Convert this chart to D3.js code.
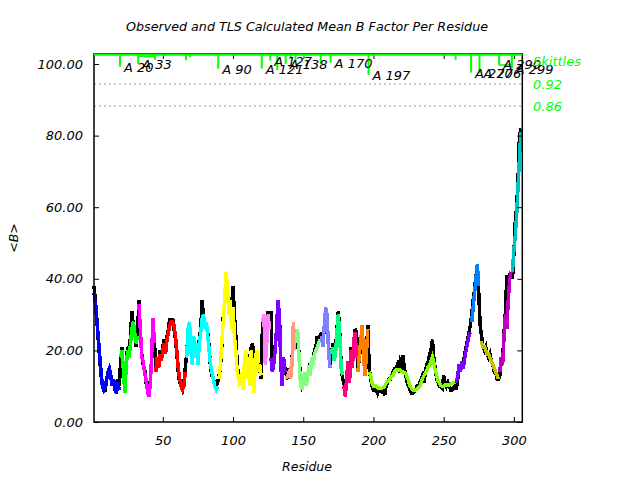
<!DOCTYPE html>
<html><head><meta charset="utf-8">
<script src="https://cdn.jsdelivr.net/npm/d3@7"></script>
<style>
body{margin:0;background:#fff;}
text{font-family:"DejaVu Sans",sans-serif;font-style:italic;}
</style></head>
<body><svg id="c" width="640" height="480"></svg>
<script>
// ---------------- DATA ----------------
const title = "Observed and TLS Calculated Mean B Factor Per Residue";
const xLabel = "Residue";
const yLabel = "<B>";
const xTicks = [50,100,150,200,250,300];
const yTicks = [0,20,40,60,80,100];
const skittleTicks = [0.92, 0.86];

// TLS segments (start residue) and colours
const segStarts = [1,20,33,45,67,90,121,127,138,145,163,170,179,189,197,259,270,276,290,299];
const segColors = ["#0000ff","#00ff00","#ff00ff","#ff0000","#00ffff","#ffff00","#ff80ff","#8000ff","#ff9980","#80ff80","#8080ff","#00ff80","#ff0080","#ff8000","#80ff00","#8000ff","#0080ff","#c0c000","#c000c0","#00c0c0"];

// TLS calculated mean B per residue (residues 1..305)
const tlsB = [
36,33,28,24,19,14,10,9,10,12,14,15,13,10,12,9,8,11,9,
18,20,14,8,16,20,18,22,26,28,25,22,24,
33,26,18,17,14,12,9,7,10,18,29,22,
14,18,15,19,17,20,22,19,23,25,27,28,28,27,24,20,15,12,10,9,10,14,
18,26,28,20,16,24,18,22,16,22,25,29,30,26,28,24,20,16,14,12,10,9,10,
12,16,22,28,34,42,38,30,34,26,32,24,20,14,12,10,14,9,16,20,12,18,10,20,14,8,18,20,14,16,13,
28,30,16,22,30,26,
18,14,16,20,26,34,30,16,10,18,14,
12,13,14,12,16,28,20,
22,26,18,11,9,12,14,10,12,16,13,18,16,19,20,21,22,23,
24,21,27,32,30,20,15,
19,21,17,19,25,30,24,15,13,
10,7,13,17,11,20,15,23,25,18,
14,19,23,27,18,13,19,26,
14,13,11,10,10,10,9.5,9.5,9.4,9.4,9.6,10,10.8,11.2,11.7,12.2,12.7,13,14,14.5,14.5,14.5,14.5,14.2,14,13.8,13.6,12.5,11.5,10,9.5,9,8.9,9,9.3,9.7,10,11,12.2,13,13.6,14.5,15.4,16,17,18.2,16.5,14.5,13,11.5,10.8,10.2,9.9,10,10.3,10.3,10.3,10.3,10.5,10.8,11,11.2,
11,13,16,14,17,15,18,20,22,24,25,
28,32,36,40,44,38,
22,22,21,21,20,19,19,18,17,16,15,14,13,12,
14,18,16,24,30,26,34,40,42,
42,48,52,58,66,74,81
];

// Observed mean B per residue (residues 1..305)
const obsB = [
38,34,29,23,18,13,11,9,9,12,14,14,12,11,11,10,8,12,10,
17,21,13,9,17,21,20,24,31,27,26,21,25,
34,25,19,16,15,11,10,8,11,17,28,23,
15,17,16,20,18,21,23,20,24,26,29,27,29,26,23,19,14,11,10,9,11,15,
19,25,27,21,17,23,19,21,17,23,26,34,29,27,27,25,21,15,13,12,11,10,11,
13,15,21,29,33,40,36,31,35,28,38,30,24,16,13,11,13,10,15,19,13,19,11,21,22,10,17,19,15,15,12,
27,29,17,23,31,27,
31,15,17,21,25,33,31,17,11,17,15,
13,12,15,13,17,27,21,
21,25,19,12,10,11,13,11,13,15,14,17,17,20,21,24,23,24,
25,22,26,31,29,21,16,
18,22,18,20,26,31,25,16,12,
11,8,12,16,12,21,16,22,26,25,
15,18,22,26,19,14,20,27,
15,12,10,9,9,9,8,9,9,8.5,9,7.5,10,11,12,12,13,14,15,15,16,15,17,16,18.6,15,13,11,10,9,8,8,8.5,9,10,10,11,12,13,11,14,16,17,19,20,23,18,15,12,11,10,10,9.5,13,11,10,11,10,9,9,9.5,10,
9,12,15,15,16,16,19,21,23,25,27,
30,34,37,41,43,36,
27,24,21,20,21,19,18,19,17,16,14,14,12,12,
13,17,17,25,31,41,35,41,41,
40,47,56,60,68,80,82
];

// Skittles: residue (segment boundary), value, label
const skitRes = [19.5,32.5,44.5,66.5,69.5,89.5,120.5,126.5,131.5,137.5,141,144.5,150.5,162.5,169.5,196.5,258.5,269.5,275.5,289.5,298.5];
const skitVal = [0.967,0.975,0.986,0.985,0.993,0.962,0.962,0.984,0.958,0.975,0.99,0.985,0.99,0.975,0.978,0.945,0.986,0.951,0.949,0.975,0.962];
const skitLabel = ["A 20","A 33","","","","A 90","A 121","A 127","","A 138","","","","","A 170","A 197","","A 270","A 276","A 290","A 299"];
const skitPlateaus = [[32.5,44.5,0.995],[289.5,298.5,0.972]];

// ---------------- CHART ----------------
const svg = d3.select("#c");
const L=94, R=522.3, T=54, B=422;
const x = d3.scaleLinear().domain([1,306]).range([L,R]);
const y = d3.scaleLinear().domain([0,102.8]).range([B,T]);
const ys = d3.scaleLinear().domain([0.86,0.92]).range([106,84]);

// dotted skittle reference lines
svg.selectAll("line.ref").data(skittleTicks).enter().append("line")
  .attr("x1",L).attr("x2",R).attr("y1",d=>ys(d)).attr("y2",d=>ys(d))
  .attr("stroke","#999").attr("stroke-width",1).attr("stroke-dasharray","2,3");

// observed line
const obsData = obsB.map((b,i)=>({r:i+1,b}));
const line = d3.line().x(d=>x(d.r)).y(d=>y(d.b));
svg.append("path").datum(obsData).attr("d",line)
  .attr("fill","none").attr("stroke","#000").attr("stroke-width",3.5)
  .attr("shape-rendering","crispEdges");

// TLS segments
segStarts.forEach((s,k)=>{
  const e = k<segStarts.length-1 ? segStarts[k+1]-1 : tlsB.length;
  const seg = [];
  for(let r=s;r<=e;r++) seg.push({r,b:tlsB[r-1]});
  svg.append("path").datum(seg).attr("d",line)
    .attr("fill","none").attr("stroke",segColors[k]).attr("stroke-width",3.5)
    .attr("shape-rendering","crispEdges");
});

// axes
const gL = svg.append("g").attr("transform",`translate(${L},0)`)
  .call(d3.axisLeft(y).tickValues(yTicks).tickFormat(d3.format(".2f")).tickSize(-5).tickPadding(11));
const gB = svg.append("g").attr("transform",`translate(0,${B})`)
  .call(d3.axisBottom(x).tickValues(xTicks).tickSize(-5).tickPadding(14));
const gT = svg.append("g").attr("transform",`translate(0,${T})`)
  .call(d3.axisTop(x).tickValues(xTicks).tickSize(-5).tickFormat(""));
const gR = svg.append("g").attr("transform",`translate(${R},0)`)
  .call(d3.axisRight(y).tickValues(yTicks).tickSize(-5).tickFormat(""));
[gL,gB,gT,gR].forEach(g=>{
  g.select(".domain").remove();
  g.selectAll("line").attr("stroke","#000");
  g.selectAll("text").attr("fill","#000").style("font-size","13px").style("font-family","DejaVu Sans").style("font-style","italic");
});

// frame
svg.append("rect").attr("x",L).attr("y",T).attr("width",R-L).attr("height",B-T)
  .attr("fill","none").attr("stroke","#000").attr("stroke-width",1.5);

// skittles
const green="#00ff00";
svg.append("line").attr("x1",L).attr("x2",R).attr("y1",ys(1)).attr("y2",ys(1))
  .attr("stroke",green).attr("stroke-width",2);
skitPlateaus.forEach(p=>{
  svg.append("path").attr("d",`M${x(p[0])},${ys(1)}V${ys(p[2])}H${x(p[1])}V${ys(1)}`)
    .attr("fill","none").attr("stroke",green).attr("stroke-width",1.5);
});
skitRes.forEach((r,i)=>{
  svg.append("line").attr("x1",x(r)).attr("x2",x(r)).attr("y1",ys(1)).attr("y2",ys(skitVal[i]))
    .attr("stroke",green).attr("stroke-width",2);
});
skitRes.forEach((r,i)=>{
  if(!skitLabel[i]) return;
  svg.append("text").attr("x",x(r)+4).attr("y",ys(skitVal[i])+5)
    .style("font-size","13px").attr("fill","#000").text(skitLabel[i]);
});

// right labels
svg.append("text").attr("x",533).attr("y",ys(1)+11).attr("fill",green).style("font-size","13px").text("Skittles");
skittleTicks.forEach(v=>{
  svg.append("text").attr("x",533).attr("y",ys(v)+5).attr("fill",green).style("font-size","13px").text(d3.format(".2f")(v));
});

// titles
svg.append("text").attr("x",307).attr("y",31).attr("text-anchor","middle").style("font-size","12.7px").text(title);
svg.append("text").attr("x",307).attr("y",471).attr("text-anchor","middle").style("font-size","12.5px").text(xLabel);
svg.append("text").attr("transform","translate(18,238) rotate(-90)").attr("text-anchor","middle").style("font-size","12.5px").text(yLabel);
</script></body></html>
